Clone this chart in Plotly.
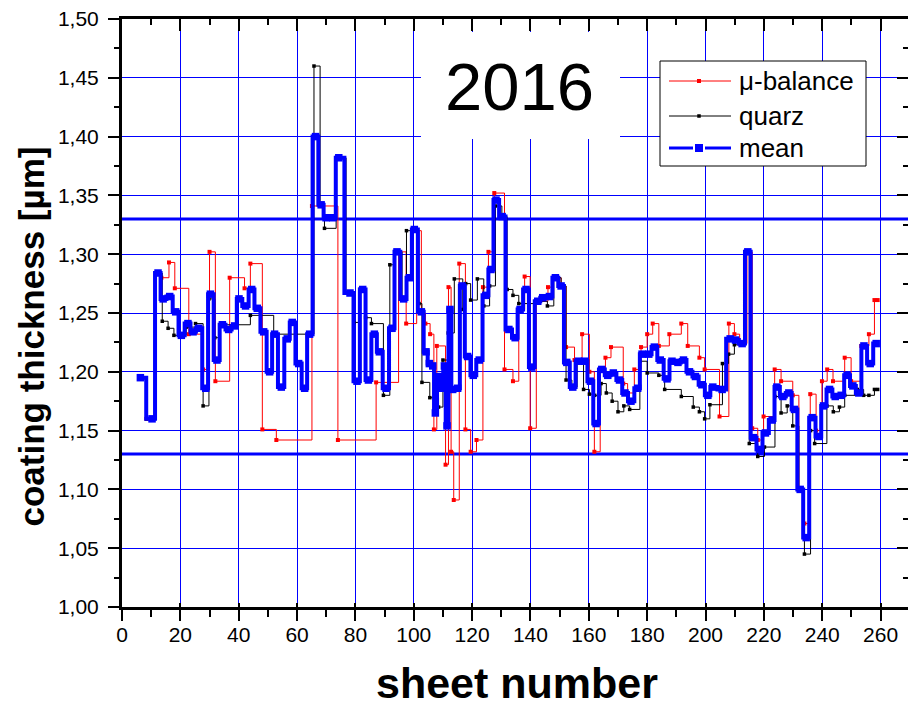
import plotly.graph_objects as go

# ---- data: coating thickness per sheet (2016) ----
# micro-balance measurement (step plot, values hold until next sheet)
mu_x = [6.3, 8.4, 11.8, 13.5, 16.1, 18.1, 22.9, 27.8, 30.0, 32.0, 36.9, 42.0, 44.0, 48.1, 52.9,
        65.1, 74.0, 87.1, 94.8, 97.4, 101.0, 102.6, 104.0, 105.6, 106.9, 107.9, 110.9, 111.9,
        112.8, 113.7, 115.6, 117.7, 119.5, 121.5, 123.7, 125.6, 127.6, 131.1, 134.0, 136.0,
        138.0, 139.9, 142.0, 146.0, 147.9, 150.5, 152.2, 155.1, 157.7, 160.2, 161.9, 163.9,
        165.7, 167.6, 171.8, 173.3, 175.6, 177.9, 180.0, 181.9, 184.0, 187.6, 191.7, 193.9,
        197.9, 199.7, 204.8, 208.0, 209.9, 211.7, 214.2, 216.0, 217.9, 219.9, 223.7, 225.9,
        229.9, 232.0, 233.9, 235.9, 237.9, 239.9, 241.7, 243.7, 247.7, 249.9, 253.4, 256.0,
        257.9, 259.0]
mu_y = [1.195, 1.160, 1.284, 1.280, 1.293, 1.271, 1.232, 1.202, 1.302, 1.192, 1.280, 1.271, 1.292,
        1.151, 1.142, 1.341, 1.142, 1.191, 1.302, 1.241, 1.320, 1.250, 1.241, 1.232, 1.151, 1.222,
        1.121, 1.272, 1.132, 1.091, 1.292, 1.151, 1.132, 1.142, 1.272, 1.302, 1.352, 1.202, 1.192,
        1.253, 1.281, 1.152, 1.260, 1.272, 1.280, 1.273, 1.221, 1.210, 1.232, 1.200, 1.132, 1.202,
        1.212, 1.221, 1.190, 1.182, 1.202, 1.221, 1.232, 1.241, 1.222, 1.232, 1.241, 1.222, 1.212,
        1.202, 1.162, 1.241, 1.232, 1.224, 1.302, 1.152, 1.142, 1.162, 1.202, 1.192, 1.180, 1.100,
        1.071, 1.181, 1.150, 1.192, 1.202, 1.192, 1.212, 1.192, 1.222, 1.232, 1.261, 1.261]

# quartz crystal measurement
qz_x = [6.3, 8.4, 11.8, 13.8, 15.8, 17.8, 22.0, 25.2, 27.8, 29.8, 31.8, 33.5, 44.0, 52.0, 65.8,
        67.9, 69.4, 73.4, 76.8, 79.5, 81.5, 83.5, 85.5, 89.6, 91.8, 93.5, 96.0, 97.5, 101.8,
        102.8, 105.5, 108.5, 110.0, 111.8, 113.9, 116.8, 117.8, 119.5, 121.8, 124.0, 126.0,
        128.0, 130.2, 132.0, 134.0, 136.0, 142.0, 145.8, 148.0, 150.5, 152.2, 154.2, 156.0,
        158.2, 160.2, 162.0, 164.2, 166.0, 168.0, 170.0, 172.0, 174.0, 177.5, 180.0, 184.0,
        186.0, 191.7, 195.8, 197.9, 199.7, 201.5, 205.8, 207.9, 209.9, 213.7, 215.0, 217.9,
        220.2, 223.8, 225.9, 228.0, 229.9, 232.0, 233.9, 236.0, 237.4, 241.6, 243.8, 245.9,
        247.7, 252.0, 254.2, 256.0, 257.9, 259.0]
qz_y = [1.195, 1.160, 1.284, 1.243, 1.237, 1.231, 1.238, 1.241, 1.171, 1.262, 1.229, 1.240, 1.248,
        1.232, 1.460, 1.342, 1.322, 1.382, 1.267, 1.242, 1.270, 1.246, 1.241, 1.180, 1.291, 1.302,
        1.262, 1.320, 1.258, 1.191, 1.178, 1.170, 1.210, 1.233, 1.279, 1.253, 1.275, 1.261, 1.279,
        1.256, 1.273, 1.341, 1.332, 1.270, 1.265, 1.258, 1.260, 1.256, 1.280, 1.273, 1.193, 1.187,
        1.209, 1.185, 1.181, 1.180, 1.190, 1.182, 1.175, 1.166, 1.171, 1.168, 1.209, 1.199, 1.197,
        1.185, 1.179, 1.170, 1.166, 1.160, 1.172, 1.207, 1.215, 1.223, 1.302, 1.139, 1.128, 1.136,
        1.179, 1.165, 1.171, 1.154, 1.100, 1.045, 1.150, 1.139, 1.171, 1.166, 1.170, 1.180, 1.185,
        1.180, 1.180, 1.185, 1.185]

# mean of both methods
mean_x = [6.3, 10.3, 12.35, 14.1, 16.35, 18.4, 20.35, 22.6, 24.35, 26.3,
          28.7, 30.3, 32.55, 34.4, 36.55, 38.6, 40.1, 42.35, 44.45, 46.35,
          48.55, 50.6, 52.3, 54.6, 56.65, 58.35, 60.55, 62.6, 64.3, 66.35,
          68.25, 69.95, 72.25, 74.3, 78.15, 80.55, 82.5, 84.45, 86.5, 88.2,
          90.5, 92.55, 94.25, 96.55, 98.5, 100.2, 102.6, 104.2, 105.35, 106.5,
          107.4, 108.55, 109.7, 110.5, 111.4, 112.4, 113.35, 115.05, 116.55, 118.45,
          120.4, 122.45, 124.7, 126.45, 128.2, 130.3, 132.6, 134.75, 136.45, 138.5,
          140.45, 142.5, 144.2, 146.5, 148.55, 150.5, 152.45, 154.5, 156.45, 158.5,
          160.55, 162.5, 164.45, 166.5, 168.4, 170.5, 172.4, 174.45, 176.75, 178.25,
          180.55, 182.45, 184.5, 186.8, 188.5, 190.55, 192.45, 194.5, 196.55, 198.75,
          200.8, 202.5, 205.7, 208.45, 210.3, 212.55, 214.5, 216.45, 218.5, 220.55,
          222.85, 224.45, 226.5, 228.55, 230.5, 232.45, 234.5, 236.55, 238.85, 240.45,
          242.5, 244.45, 246.5, 248.55, 250.5, 252.55, 254.3, 256.45, 258.5]
mean_y = [1.195, 1.160, 1.284, 1.262, 1.264, 1.251, 1.231, 1.241, 1.234, 1.237,
          1.186, 1.266, 1.210, 1.240, 1.236, 1.239, 1.262, 1.256, 1.270, 1.254,
          1.234, 1.200, 1.232, 1.187, 1.228, 1.242, 1.207, 1.186, 1.232, 1.400,
          1.342, 1.331, 1.331, 1.382, 1.267, 1.192, 1.270, 1.193, 1.232, 1.217,
          1.186, 1.237, 1.302, 1.262, 1.280, 1.321, 1.251, 1.217, 1.207, 1.205,
          1.165, 1.196, 1.186, 1.205, 1.154, 1.253, 1.185, 1.186, 1.273, 1.213,
          1.197, 1.210, 1.265, 1.287, 1.346, 1.332, 1.236, 1.229, 1.253, 1.270,
          1.204, 1.260, 1.263, 1.264, 1.280, 1.273, 1.208, 1.187, 1.209, 1.209,
          1.192, 1.156, 1.202, 1.197, 1.199, 1.193, 1.182, 1.175, 1.186, 1.215,
          1.215, 1.221, 1.210, 1.194, 1.209, 1.208, 1.210, 1.200, 1.196, 1.189,
          1.180, 1.187, 1.185, 1.228, 1.227, 1.224, 1.302, 1.144, 1.134, 1.148,
          1.159, 1.187, 1.179, 1.182, 1.168, 1.100, 1.059, 1.161, 1.145, 1.171,
          1.185, 1.179, 1.180, 1.197, 1.188, 1.182, 1.222, 1.207, 1.224]

# tolerance limits
limits = [1.13, 1.33]

series_names = ["\u03bc-balance", "quarz", "mean"]
year_label = "2016"
x_title = "sheet number"
y_title = "coating thickness [\u00b5m]"

X_RANGE = [0, 269.4]
Y_RANGE = [1.0, 1.5]

BLUE = "rgb(0,0,255)"
RED = "rgb(255,0,0)"
FONT = "Liberation Sans, Arial, sans-serif"

W, H = 908, 708
ML, MR, MT, MB = 122, 0, 19, 101
PW, PH = W - ML - MR, H - MT - MB


def px(xp):
    return (xp - ML) / PW


def py(yp):
    return 1 - (yp - MT) / PH


fig = go.Figure()

# helper traces so the mirrored tick axes get drawn
fig.add_trace(go.Scatter(x=[None], y=[None], xaxis="x2", yaxis="y", showlegend=False, hoverinfo="skip"))
fig.add_trace(go.Scatter(x=[None], y=[None], xaxis="x3", yaxis="y", showlegend=False, hoverinfo="skip"))
fig.add_trace(go.Scatter(x=[None], y=[None], xaxis="x", yaxis="y3", showlegend=False, hoverinfo="skip"))

fig.add_trace(go.Scatter(
    x=mu_x, y=mu_y, name=series_names[0], mode="lines+markers",
    line=dict(color=RED, width=1, shape="hv"),
    marker=dict(symbol="square", size=4, color=RED),
))
fig.add_trace(go.Scatter(
    x=qz_x, y=qz_y, name=series_names[1], mode="lines+markers",
    line=dict(color="black", width=1, shape="hv"),
    marker=dict(symbol="square", size=3.5, color="black"),
))
fig.add_trace(go.Scatter(
    x=mean_x, y=mean_y, name=series_names[2], mode="lines+markers",
    line=dict(color=BLUE, width=4, shape="hvh"),
    marker=dict(symbol="square", size=7.5, color=BLUE),
))

shapes = []
# tolerance limits across the full width
for v in limits:
    shapes.append(dict(type="line", xref="paper", yref="y", x0=0, x1=1, y0=v, y1=v,
                       line=dict(color=BLUE, width=3), layer="below"))

# white box behind the year label
shapes.append(dict(type="rect", xref="paper", yref="paper",
                   x0=px(421), x1=px(620), y0=py(139), y1=py(32),
                   fillcolor="white", line=dict(width=0), layer="above"))

# legend frame
shapes.append(dict(type="rect", xref="paper", yref="paper",
                   x0=px(660), x1=px(866), y0=py(166), y1=py(61),
                   fillcolor="white", line=dict(color="black", width=1), layer="above"))
rows = [81, 116, 148]
# red and black samples
for yrow, col, w, ms in [(rows[0], RED, 1, 4), (rows[1], "black", 1, 3.5)]:
    shapes.append(dict(type="line", xref="paper", yref="paper",
                       x0=px(669), x1=px(731), y0=py(yrow), y1=py(yrow),
                       line=dict(color=col, width=w), layer="above"))
    shapes.append(dict(type="rect", xref="paper", yref="paper",
                       x0=px(699 - ms / 2), x1=px(699 + ms / 2),
                       y0=py(yrow + ms / 2), y1=py(yrow - ms / 2),
                       fillcolor=col, line=dict(width=0), layer="above"))
# blue sample with gaps around the symbol
for a, b in [(669, 693), (705, 731)]:
    shapes.append(dict(type="line", xref="paper", yref="paper",
                       x0=px(a), x1=px(b), y0=py(rows[2]), y1=py(rows[2]),
                       line=dict(color=BLUE, width=3), layer="above"))
shapes.append(dict(type="rect", xref="paper", yref="paper",
                   x0=px(695), x1=px(703), y0=py(rows[2] + 4), y1=py(rows[2] - 4),
                   fillcolor=BLUE, line=dict(width=0), layer="above"))

annotations = [
    dict(text=year_label, xref="paper", yref="paper", x=px(519.5), y=py(86.5),
         xanchor="center", yanchor="middle", showarrow=False,
         font=dict(family=FONT, size=67, color="black")),
    dict(text="<b>%s</b>" % x_title, xref="paper", yref="paper", x=px(517), y=py(708),
         xanchor="center", yanchor="bottom", showarrow=False, borderpad=0,
         font=dict(family=FONT, size=43, color="black")),
    dict(text="<b>%s</b>" % y_title, xref="paper", yref="paper", x=px(30.5), y=py(337),
         xanchor="center", yanchor="middle", showarrow=False, textangle=-90,
         font=dict(family=FONT, size=35, color="black")),
]
for yrow, name in zip(rows, series_names):
    annotations.append(dict(text=name, xref="paper", yref="paper", x=px(737), y=py(yrow),
                            xanchor="left", yanchor="middle", showarrow=False,
                            font=dict(family=FONT, size=26, color="black")))

common_x = dict(range=X_RANGE, tick0=0, dtick=20, zeroline=False)
common_y = dict(range=Y_RANGE, tick0=1.0, dtick=0.05, zeroline=False)

fig.update_layout(
    width=W, height=H,
    margin=dict(l=ML, r=MR, t=MT, b=MB, pad=0),
    paper_bgcolor="white", plot_bgcolor="white",
    showlegend=False,
    separators=",.",
    font=dict(family=FONT, color="black"),
    xaxis=dict(**common_x, ticks="outside", ticklen=11, tickwidth=2, tickcolor="black",
               showline=True, linewidth=3, linecolor="black",
               showgrid=True, gridcolor=BLUE, gridwidth=1, showticklabels=False,
               minor=dict(dtick=10, ticks="outside", ticklen=7, tickwidth=2, tickcolor="black",
                          showgrid=False)),
    xaxis2=dict(**common_x, overlaying="x", anchor="y", side="bottom",
                ticks="inside", ticklen=4, tickwidth=2, tickcolor="black",
                showticklabels=True, tickfont=dict(size=21, family=FONT, color="black"),
                ticklabelstandoff=13,
                showgrid=False, showline=False),
    xaxis3=dict(**common_x, overlaying="x", anchor="y", side="top",
                ticks="inside", ticklen=12, tickwidth=2, tickcolor="black",
                showticklabels=False, showgrid=False, showline=True, linewidth=3, linecolor="black",
                minor=dict(dtick=10, ticks="inside", ticklen=6, tickwidth=2, tickcolor="black",
                           showgrid=False)),
    yaxis=dict(**common_y, tickformat=".2f", ticks="outside", ticklen=11, tickwidth=2,
               tickcolor="black", showline=True, linewidth=3, linecolor="black",
               showgrid=True, gridcolor=BLUE, gridwidth=1,
               tickfont=dict(size=21, family=FONT, color="black"), ticklabelstandoff=5,
               minor=dict(dtick=0.025, ticks="outside", ticklen=5, tickwidth=2, tickcolor="black",
                          showgrid=False)),
    yaxis3=dict(**common_y, overlaying="y", anchor="x", side="right",
                ticks="inside", ticklen=11, tickwidth=2, tickcolor="black",
                showticklabels=False, showgrid=False, showline=False,
                minor=dict(dtick=0.025, ticks="inside", ticklen=5, tickwidth=2, tickcolor="black",
                           showgrid=False)),
    shapes=shapes,
    annotations=annotations,
)

fig.write_html("out.html")
